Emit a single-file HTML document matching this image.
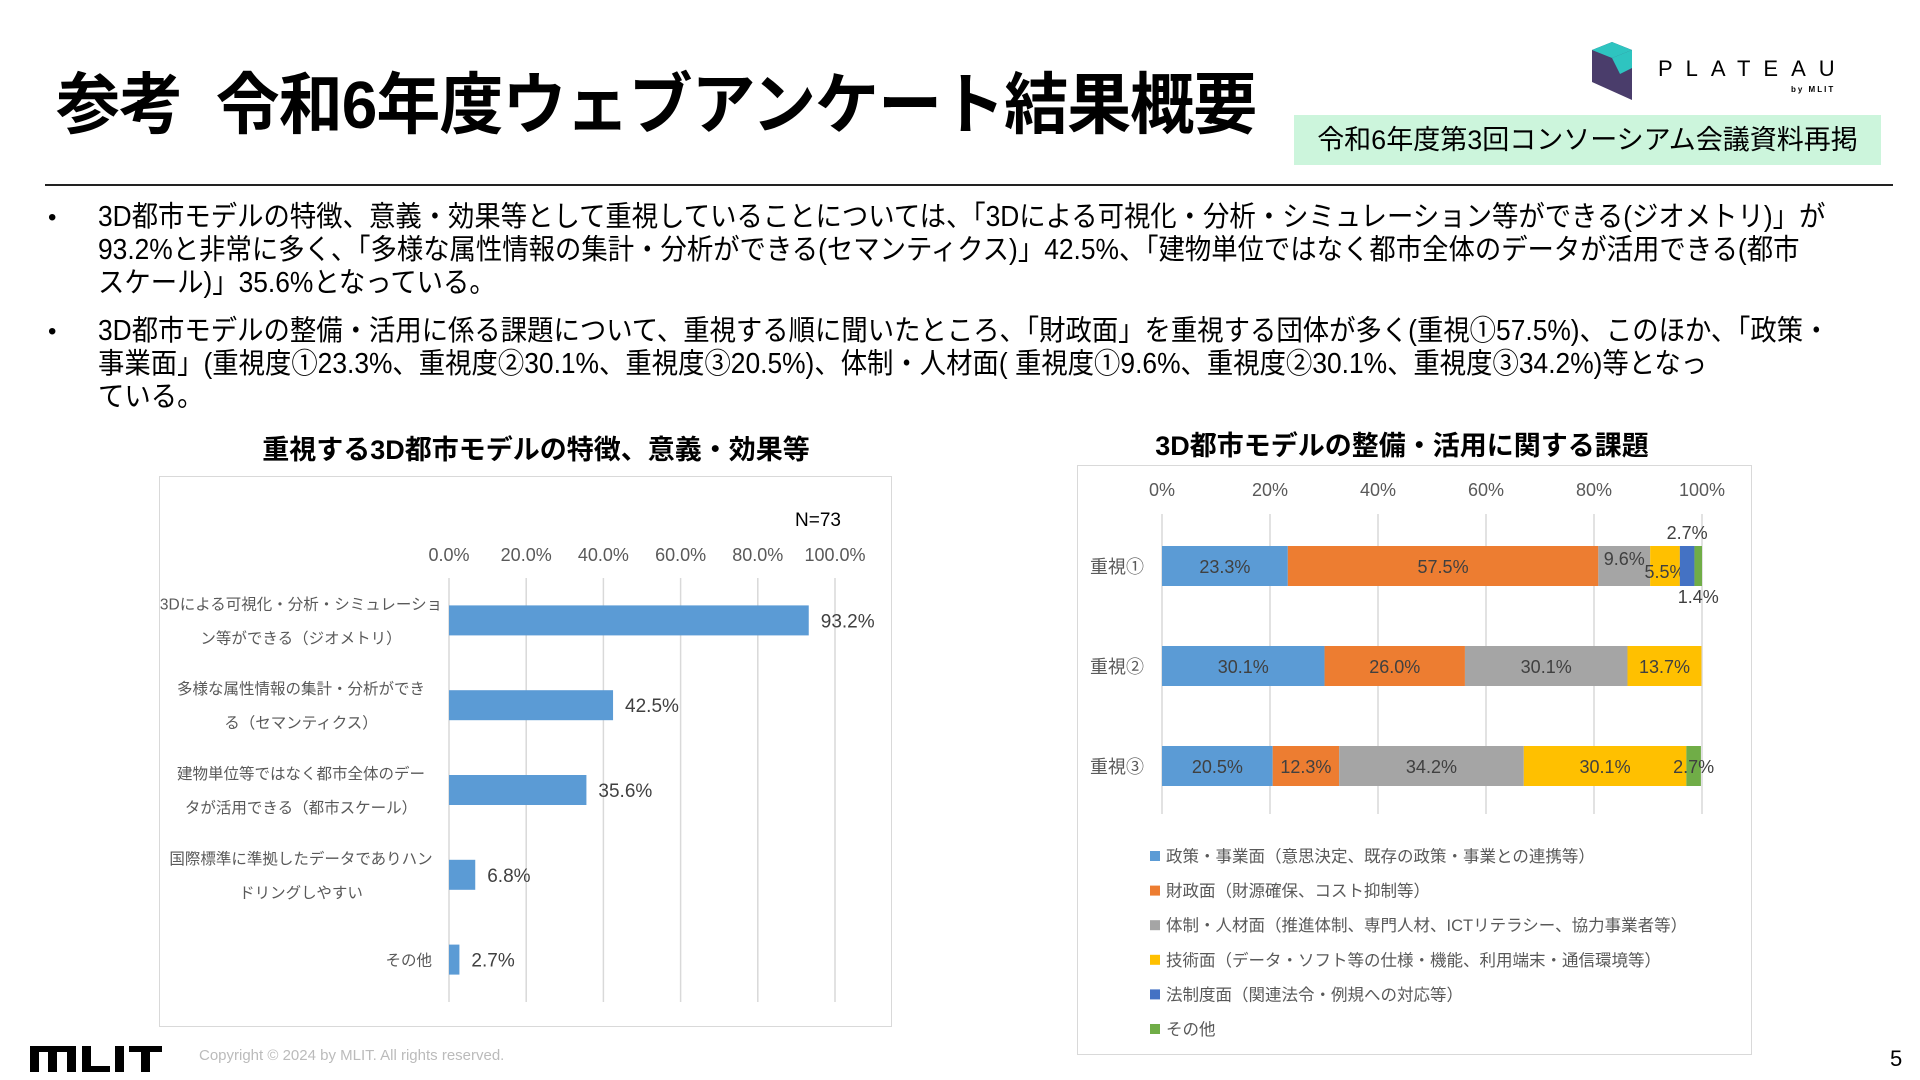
<!DOCTYPE html>
<html><head><meta charset="utf-8">
<style>
html,body{margin:0;padding:0;background:#fff;}
body{width:1920px;height:1080px;position:relative;overflow:hidden;font-family:"Liberation Sans","Noto Sans CJK JP",sans-serif;color:#000;}
.abs{position:absolute;white-space:nowrap;}
.title{left:56px;top:66px;font-size:67px;font-weight:bold;letter-spacing:-1px;line-height:80px;transform:scaleX(0.955);transform-origin:left top;}
.green{left:1294px;top:115px;width:587px;height:50px;background:#ccf5dc;font-size:27px;line-height:50px;text-align:center;}
.rule{left:45px;top:184px;width:1848px;height:2px;background:#222;}
.bul{font-size:28.5px;line-height:33px;transform:scaleX(0.925);transform-origin:left top;}
.dot{font-size:24px;}
</style></head>
<body>
<div class="abs title">参考&nbsp;&nbsp;令和6年度ウェブアンケート結果概要</div>
<div class="abs green">令和6年度第3回コンソーシアム会議資料再掲</div>
<svg class="abs" style="left:1590px;top:40px" width="300" height="62">
<polygon points="2,10 22,2 42,10 42,60 2,42" fill="#4a3d6b"/>
<polygon points="2,10 22,2 42,10 22,18" fill="#2ec4c0"/>
<polygon points="22,18 42,10 42,28 30,34" fill="#2ec4c0"/>
<text x="68" y="36" font-size="22" letter-spacing="13" font-family="Liberation Sans, sans-serif">PLATEAU</text>
<text x="201" y="52" font-size="8" font-weight="bold" letter-spacing="2">by MLIT</text>
</svg>
<div class="abs rule"></div>

<div class="abs dot" style="left:48px;top:204px">•</div>
<div class="abs bul" style="left:98px;top:201px">3D都市モデルの特徴、意義・効果等として重視していることについては、「3Dによる可視化・分析・シミュレーション等ができる(ジオメトリ)」が<br>93.2%と非常に多く、「多様な属性情報の集計・分析ができる(セマンティクス)」42.5%、「建物単位ではなく都市全体のデータが活用できる(都市<br>スケール)」35.6%となっている。</div>
<div class="abs dot" style="left:48px;top:318px">•</div>
<div class="abs bul" style="left:98px;top:315px">3D都市モデルの整備・活用に係る課題について、重視する順に聞いたところ、「財政面」を重視する団体が多く(重視①57.5%)、このほか、「政策・<br>事業面」(重視度①23.3%、重視度②30.1%、重視度③20.5%)、体制・人材面( 重視度①9.6%、重視度②30.1%、重視度③34.2%)等となっ<br>ている。</div>

<div class="abs" style="left:170px;top:428px;width:732px;text-align:center;font-size:27px;font-weight:bold">重視する3D都市モデルの特徴、意義・効果等</div>
<div class="abs" style="left:1065px;top:424px;width:674px;text-align:center;font-size:27px;font-weight:bold">3D都市モデルの整備・活用に関する課題</div>

<svg class="abs" style="left:0;top:0" width="1920" height="1080" id="charts">
<rect x="159.5" y="476.5" width="732" height="550" fill="#fff" stroke="#d9d9d9"/>
<rect x="1077.5" y="465.5" width="674" height="589" fill="#fff" stroke="#d9d9d9"/>
<text x="818" y="526" font-size="19" text-anchor="middle">N=73</text>
<g id="left"></g><g id="right"></g>
</svg>

<svg class="abs" style="left:30px;top:1046px" width="132" height="26">
<rect x="0" y="0" width="46" height="6" fill="#000"/><rect x="0" y="0" width="9" height="26" fill="#000"/><rect x="18" y="0" width="9" height="26" fill="#000"/><rect x="37" y="0" width="9" height="26" fill="#000"/>
<rect x="52" y="0" width="9" height="26" fill="#000"/><rect x="52" y="20" width="28" height="6" fill="#000"/>
<rect x="85" y="0" width="9" height="26" fill="#000"/>
<rect x="99" y="0" width="33" height="6" fill="#000"/><rect x="111" y="0" width="9" height="26" fill="#000"/>
</svg>
<div class="abs" style="left:199px;top:1047px;font-size:15px;color:#bbb">Copyright © 2024 by MLIT. All rights reserved.</div>
<div class="abs" style="left:1890px;top:1046px;font-size:22px">5</div>

<script>
const leftCats = [["3Dによる可視化・分析・シミュレーショ","ン等ができる（ジオメトリ）"],["多様な属性情報の集計・分析ができ","る（セマンティクス）"],["建物単位等ではなく都市全体のデー","タが活用できる（都市スケール）"],["国際標準に準拠したデータでありハン","ドリングしやすい"],["その他"]];
const leftValues = [93.2,42.5,35.6,6.8,2.7];
const leftTicks = ["0.0%","20.0%","40.0%","60.0%","80.0%","100.0%"];
const leftTickVals = [0,20,40,60,80,100];

const rightCats = ["重視①","重視②","重視③"];
const seriesNames = ["政策・事業面（意思決定、既存の政策・事業との連携等）","財政面（財源確保、コスト抑制等）","体制・人材面（推進体制、専門人材、ICTリテラシー、協力事業者等）","技術面（データ・ソフト等の仕様・機能、利用端末・通信環境等）","法制度面（関連法令・例規への対応等）","その他"];
const seriesColors = ["#5B9BD5","#ED7D31","#A5A5A5","#FFC000","#4472C4","#70AD47"];
const s1 = [23.3,30.1,20.5];
const s2 = [57.5,26.0,12.3];
const s3 = [9.6,30.1,34.2];
const s4 = [5.5,13.7,30.1];
const s5 = [2.7,0,0];
const s6 = [1.4,0,2.7];
const rightTicks = ["0%","20%","40%","60%","80%","100%"];
const rightTickVals = [0,20,40,60,80,100];

const NS="http://www.w3.org/2000/svg";
function mk(parent,tag,attrs,txt){const e=document.createElementNS(NS,tag);for(const k in attrs)e.setAttribute(k,attrs[k]);if(txt!==undefined)e.textContent=txt;parent.appendChild(e);return e;}

const L=document.getElementById('left');
const lx=v=>449+v/100*386;
const lTop=578,lBot=1002,lBand=(lBot-lTop)/leftCats.length;
const ly=i=>lTop+lBand*(i+0.5);
leftTickVals.forEach((v,i)=>{
  const g=mk(L,'line',{x1:lx(v),x2:lx(v),y1:lTop,y2:lBot,stroke:'#d9d9d9','stroke-width':1.5});
  
  
  const t=mk(L,'text',{x:lx(v),y:561,'font-size':18,fill:'#595959','text-anchor':'middle'},leftTicks[i]);
  
  
});
leftValues.forEach((v,i)=>{
  const r=mk(L,'rect',{x:lx(0),y:ly(i)-15,width:lx(v)-lx(0),height:30,fill:'#5B9BD5'});
  
  
  const t=mk(L,'text',{x:lx(v)+12,y:ly(i)+7,'font-size':19,fill:'#404040'},v.toFixed(1)+'%');
  
  
  const lines=leftCats[i];
  lines.forEach((s,j)=>{
    const off=(j-(lines.length-1)/2)*34;
    const c=mk(L,'text',{x:lines.length>1?301:432,y:ly(i)+off+6,'font-size':15.5,fill:'#595959','text-anchor':lines.length>1?'middle':'end'},s);
    
    
  });
});

const R=document.getElementById('right');
const rx=v=>1162+v/100*540;
const rTop=514,rBot=814,rBand=(rBot-rTop)/rightCats.length;
const ry=i=>rTop+rBand*(i+0.5)+2;
const series=[s1,s2,s3,s4,s5,s6];
rightTickVals.forEach((v,i)=>{
  const g=mk(R,'line',{x1:rx(v),x2:rx(v),y1:rTop,y2:rBot,stroke:'#d9d9d9','stroke-width':1.5});
  
  
  const t=mk(R,'text',{x:rx(v),y:496,'font-size':18,fill:'#595959','text-anchor':'middle'},rightTicks[i]);
  
  
});
rightCats.forEach((c,i)=>{
  const t=mk(R,'text',{x:1117,y:ry(i)+7,'font-size':18,fill:'#595959','text-anchor':'middle'},c);
  
  
  let acc=0;
  series.forEach((s,k)=>{
    const v=s[i];
    if(v<=0)return;
    const x0=rx(acc),x1=rx(acc+v);
    const r=mk(R,'rect',{x:x0,y:ry(i)-20,width:x1-x0,height:40,fill:seriesColors[k]});
    
    
    let tx=(x0+x1)/2,ty=ry(i)+7;
    if(v<12){
      if(k===2){ty=ry(i)-1;}
      else if(k===3&&i===0){ty=ry(i)+12;}
      else if(k===4){ty=ry(i)-27;}
      else if(k===5&&i===0){ty=ry(i)+37;}
    }
    const lab=mk(R,'text',{x:tx,y:ty,'font-size':18,fill:'#404040','text-anchor':'middle'},v.toFixed(1)+'%');
    
    
    acc+=v;
  });
});
seriesNames.forEach((n,k)=>{
  const y=856+k*34.6;
  const sq=mk(R,'rect',{x:1150,y:y-5,width:10,height:10,fill:seriesColors[k]});
  
  
  const t=mk(R,'text',{x:1166,y:y+6,'font-size':16.5,fill:'#595959'},n);
  
  
});
</script>
</body></html>
